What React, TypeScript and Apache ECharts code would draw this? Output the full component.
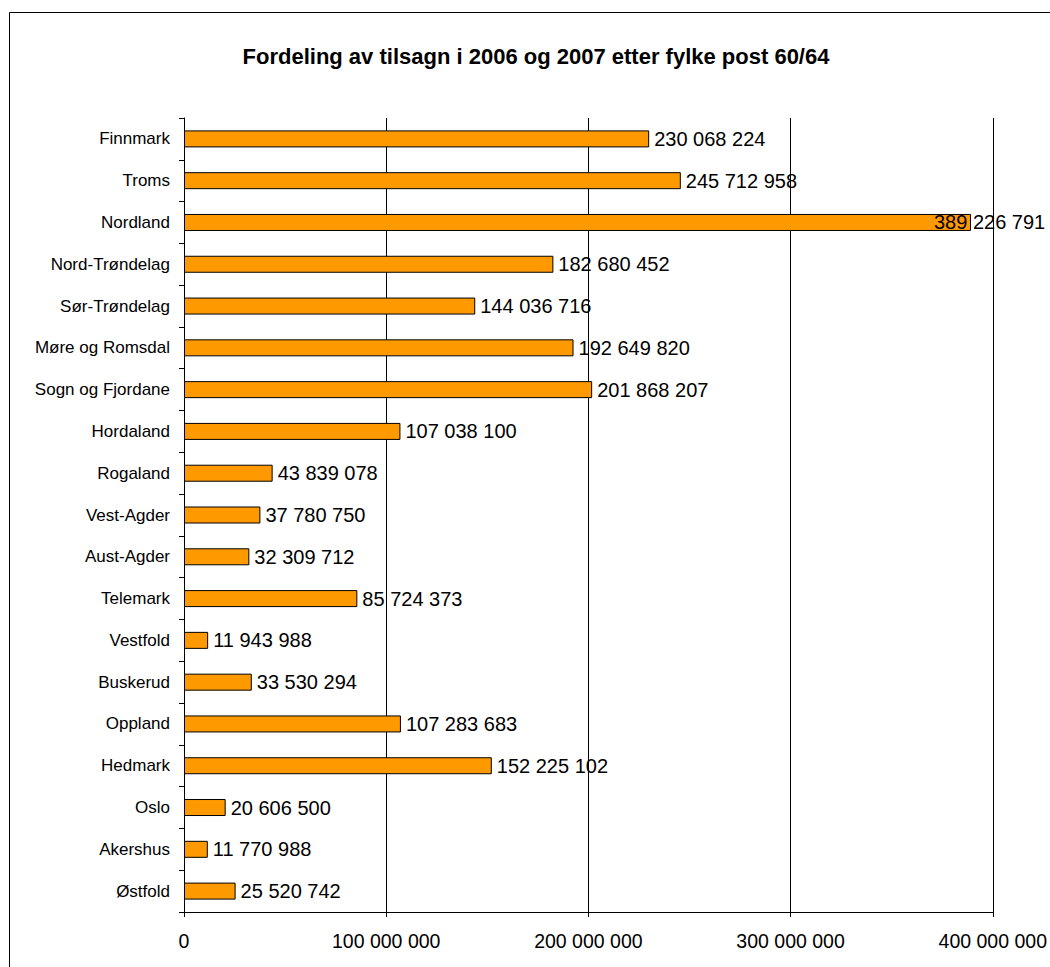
import React, { useEffect, useRef } from "react";
import * as echarts from "echarts";

const TITLE = "Fordeling av tilsagn i 2006 og 2007 etter fylke post 60/64";

const categories = [
  "Finnmark",
  "Troms",
  "Nordland",
  "Nord-Trøndelag",
  "Sør-Trøndelag",
  "Møre og Romsdal",
  "Sogn og Fjordane",
  "Hordaland",
  "Rogaland",
  "Vest-Agder",
  "Aust-Agder",
  "Telemark",
  "Vestfold",
  "Buskerud",
  "Oppland",
  "Hedmark",
  "Oslo",
  "Akershus",
  "Østfold",
];

const values = [
  230068224, 245712958, 389226791, 182680452, 144036716, 192649820, 201868207,
  107038100, 43839078, 37780750, 32309712, 85724373, 11943988, 33530294,
  107283683, 152225102, 20606500, 11770988, 25520742,
];

const xTicks = [0, 100000000, 200000000, 300000000, 400000000];

const fmt = (v: number) =>
  String(Math.round(v)).replace(/\B(?=(\d{3})+(?!\d))/g, " ");

const FONT = "'Liberation Sans', Arial, sans-serif";

export default function App() {
  const ref = useRef<HTMLDivElement>(null);

  useEffect(() => {
    if (!ref.current) return;
    const chart = echarts.init(ref.current, undefined, { renderer: "svg" });
    const xMax = xTicks[xTicks.length - 1];
    const data = values.map((v) => {
      // Label overflow past the plot's right edge is pulled back inside (as in the source)
      if (v > xMax * 0.9) {
        return { value: v, label: { offset: [-42, 0] } };
      }
      return v;
    });
    chart.setOption({
      animation: false,
      backgroundColor: "#ffffff",
      textStyle: { fontFamily: FONT },
      title: {
        text: TITLE,
        left: 531,
        top: 40,
        textAlign: "center",
        textStyle: {
          fontFamily: FONT,
          fontSize: 22,
          fontWeight: "bold",
          color: "#000",
        },
      },
      graphic: [
        {
          type: "rect",
          shape: { x: 9.5, y: 12.5, width: 1200, height: 1200 },
          style: { fill: "none", stroke: "#000", lineWidth: 1 },
          silent: true,
          z: 100,
        },
      ],
      grid: { left: 184, right: 57, top: 118, bottom: 55, containLabel: false },
      xAxis: {
        type: "value",
        min: xTicks[0],
        max: xMax,
        interval: xTicks[1] - xTicks[0],
        axisLine: { show: true, lineStyle: { color: "#000", width: 1 } },
        axisTick: { show: true, length: 5, lineStyle: { color: "#000" } },
        splitLine: { show: true, lineStyle: { color: "#000", width: 1 } },
        axisLabel: {
          color: "#000",
          fontSize: 19.5,
          fontFamily: FONT,
          margin: 19,
          formatter: (v: number) => fmt(v),
        },
      },
      yAxis: {
        type: "category",
        data: categories,
        inverse: true,
        axisLine: { show: true, lineStyle: { color: "#000", width: 1 } },
        axisTick: { show: true, length: 5, lineStyle: { color: "#000" } },
        axisLabel: {
          color: "#000",
          fontSize: 17,
          fontFamily: FONT,
          margin: 14,
        },
        splitLine: { show: false },
      },
      series: [
        {
          type: "bar",
          data,
          barWidth: 17,
          itemStyle: {
            color: "#FF9900",
            borderColor: "#000",
            borderWidth: 1,
          },
          label: {
            show: true,
            position: "right",
            distance: 5,
            color: "#000",
            fontSize: 20,
            fontFamily: FONT,
            formatter: (p: any) => fmt(p.value),
          },
        },
      ],
    });
    return () => chart.dispose();
  }, []);

  return (
    <div
      ref={ref}
      style={{
        position: "fixed",
        left: 0,
        top: 0,
        width: 1050,
        height: 967,
      }}
    />
  );
}
